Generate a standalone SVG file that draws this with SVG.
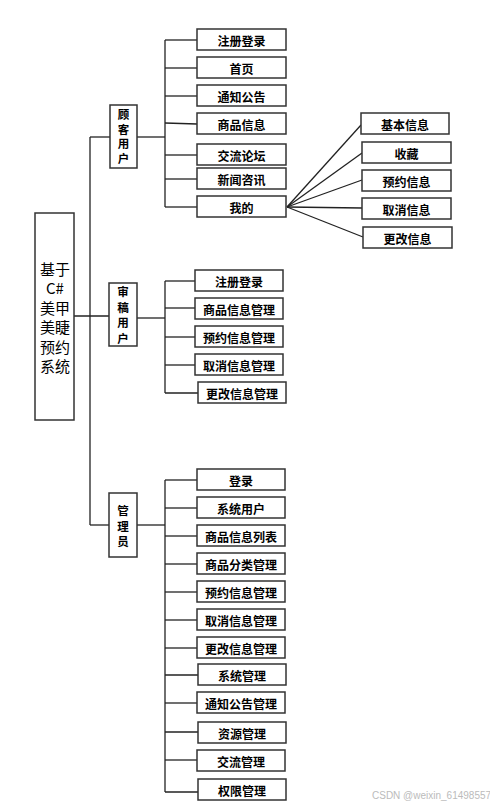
<svg xmlns="http://www.w3.org/2000/svg" width="490" height="807" viewBox="0 0 490 807">
<style>
.b{fill:#fff;stroke:#333;stroke-width:1.5}
.t{font-family:"Noto Sans CJK SC","Noto Sans",sans-serif;font-size:12px;font-weight:bold;fill:#000;text-anchor:middle;dominant-baseline:central}
.v{font-family:"Noto Sans CJK SC","Noto Sans",sans-serif;font-size:11.5px;font-weight:bold;fill:#000;text-anchor:middle;dominant-baseline:central}
.r{font-family:"Noto Sans CJK SC","Noto Sans",sans-serif;font-size:15px;fill:#000;text-anchor:middle;dominant-baseline:central}
.c line{stroke:#222;stroke-width:1.3}
.w{font-family:"Liberation Sans",Arial,sans-serif;font-size:10px;fill:#bbb}
</style>
<rect width="490" height="807" fill="#fff"/>
<g class="c" id="connectors">
<line x1="90" y1="137" x2="90" y2="525"/>
<line x1="74" y1="316" x2="109" y2="316"/>
<line x1="90" y1="137" x2="110" y2="137"/>
<line x1="90" y1="525" x2="109" y2="525"/>
<line x1="137" y1="137" x2="165" y2="137"/>
<line x1="165" y1="40" x2="165" y2="207"/>
<line x1="165" y1="40" x2="197" y2="40"/>
<line x1="165" y1="68" x2="197" y2="68"/>
<line x1="165" y1="96" x2="197" y2="96"/>
<line x1="165" y1="123" x2="197" y2="124"/>
<line x1="165" y1="155" x2="197" y2="155"/>
<line x1="165" y1="179" x2="197" y2="179"/>
<line x1="165" y1="207" x2="197" y2="207"/>
<line x1="287" y1="207" x2="361" y2="125"/>
<line x1="287" y1="207" x2="362" y2="153"/>
<line x1="287" y1="207" x2="362" y2="180"/>
<line x1="287" y1="207" x2="362" y2="208"/>
<line x1="287" y1="207" x2="363" y2="237"/>
<line x1="137" y1="318" x2="165" y2="318"/>
<line x1="165" y1="281" x2="165" y2="393"/>
<line x1="165" y1="281" x2="195" y2="281"/>
<line x1="165" y1="308" x2="195" y2="308"/>
<line x1="165" y1="337" x2="195" y2="337"/>
<line x1="165" y1="365" x2="195" y2="365"/>
<line x1="165" y1="393" x2="198" y2="393"/>
<line x1="137" y1="525" x2="165" y2="525"/>
<line x1="165" y1="480" x2="165" y2="792"/>
<line x1="165" y1="480" x2="197" y2="480"/>
<line x1="165" y1="508" x2="197" y2="508"/>
<line x1="165" y1="536" x2="197" y2="536"/>
<line x1="165" y1="564" x2="197" y2="564"/>
<line x1="165" y1="592" x2="197" y2="592"/>
<line x1="165" y1="620" x2="197" y2="620"/>
<line x1="165" y1="648" x2="197" y2="648"/>
<line x1="165" y1="675" x2="198" y2="675"/>
<line x1="165" y1="703" x2="197" y2="703"/>
<line x1="165" y1="732" x2="198" y2="732"/>
<line x1="165" y1="760" x2="197" y2="760"/>
<line x1="165" y1="792" x2="198" y2="792"/>
</g>
<g id="root"><rect class="b" x="35" y="213" width="39" height="207"/>
<text class="r" x="55" y="268">基于</text><text class="r" x="55" y="287.5">C#</text><text class="r" x="55" y="307">美甲</text><text class="r" x="55" y="326.5">美睫</text><text class="r" x="55" y="346">预约</text><text class="r" x="55" y="365.5">系统</text></g>
<g id="customer"><rect class="b" x="110" y="105" width="27" height="63"/>
<text class="v" x="123.5" y="113.5">顾</text><text class="v" x="123.5" y="128.5">客</text><text class="v" x="123.5" y="143">用</text><text class="v" x="123.5" y="158">户</text></g>
<g id="c1"><rect class="b" x="197" y="29" width="89" height="21"/><text class="t" x="241.5" y="40">注册登录</text></g>
<g id="c2"><rect class="b" x="197" y="57" width="89" height="21"/><text class="t" x="241.5" y="68">首页</text></g>
<g id="c3"><rect class="b" x="197" y="85" width="89" height="21"/><text class="t" x="241.5" y="96">通知公告</text></g>
<g id="c4"><rect class="b" x="197" y="113" width="89" height="21"/><text class="t" x="241.5" y="124">商品信息</text></g>
<g id="c5"><rect class="b" x="197" y="144" width="89" height="21"/><text class="t" x="241.5" y="155">交流论坛</text></g>
<g id="c6"><rect class="b" x="197" y="168" width="89" height="21"/><text class="t" x="241.5" y="179">新闻咨讯</text></g>
<g id="c7"><rect class="b" x="197" y="196" width="89" height="21"/><text class="t" x="241.5" y="207">我的</text></g>
<g id="m1"><rect class="b" x="361" y="113" width="88" height="21"/><text class="t" x="405" y="124">基本信息</text></g>
<g id="m2"><rect class="b" x="362" y="142" width="89" height="21"/><text class="t" x="406.5" y="153">收藏</text></g>
<g id="m3"><rect class="b" x="362" y="170" width="89" height="21"/><text class="t" x="406.5" y="181">预约信息</text></g>
<g id="m4"><rect class="b" x="362" y="198" width="89" height="21"/><text class="t" x="406.5" y="209">取消信息</text></g>
<g id="m5"><rect class="b" x="363" y="227" width="89" height="21"/><text class="t" x="407.5" y="238">更改信息</text></g>
<g id="auditor"><rect class="b" x="109" y="283" width="28" height="63"/>
<text class="v" x="123" y="291">审</text><text class="v" x="123" y="306.5">稿</text><text class="v" x="123" y="322">用</text><text class="v" x="123" y="337.5">户</text></g>
<g id="a1"><rect class="b" x="195" y="270" width="88" height="21"/><text class="t" x="239" y="281">注册登录</text></g>
<g id="a2"><rect class="b" x="195" y="298" width="88" height="21"/><text class="t" x="239" y="309">商品信息管理</text></g>
<g id="a3"><rect class="b" x="195" y="326" width="88" height="21"/><text class="t" x="239" y="337">预约信息管理</text></g>
<g id="a4"><rect class="b" x="195" y="354" width="88" height="21"/><text class="t" x="239" y="365">取消信息管理</text></g>
<g id="a5"><rect class="b" x="198" y="382" width="88" height="21"/><text class="t" x="242" y="393">更改信息管理</text></g>
<g id="admin"><rect class="b" x="109" y="493" width="28" height="64"/>
<text class="v" x="123" y="510">管</text><text class="v" x="123" y="526">理</text><text class="v" x="123" y="541">员</text></g>
<g id="d1"><rect class="b" x="197" y="469" width="88" height="21"/><text class="t" x="241" y="480">登录</text></g>
<g id="d2"><rect class="b" x="197" y="497" width="88" height="21"/><text class="t" x="241" y="508">系统用户</text></g>
<g id="d3"><rect class="b" x="197" y="525" width="88" height="21"/><text class="t" x="241" y="536">商品信息列表</text></g>
<g id="d4"><rect class="b" x="197" y="553" width="88" height="21"/><text class="t" x="241" y="564">商品分类管理</text></g>
<g id="d5"><rect class="b" x="197" y="581" width="88" height="21"/><text class="t" x="241" y="592">预约信息管理</text></g>
<g id="d6"><rect class="b" x="197" y="609" width="88" height="21"/><text class="t" x="241" y="620">取消信息管理</text></g>
<g id="d7"><rect class="b" x="197" y="637" width="88" height="21"/><text class="t" x="241" y="648">更改信息管理</text></g>
<g id="d8"><rect class="b" x="198" y="664" width="88" height="21"/><text class="t" x="242" y="675">系统管理</text></g>
<g id="d9"><rect class="b" x="197" y="692" width="88" height="21"/><text class="t" x="241" y="703">通知公告管理</text></g>
<g id="d10"><rect class="b" x="198" y="722" width="88" height="21"/><text class="t" x="242" y="733">资源管理</text></g>
<g id="d11"><rect class="b" x="197" y="750" width="88" height="21"/><text class="t" x="241" y="761">交流管理</text></g>
<g id="d12"><rect class="b" x="198" y="779" width="88" height="21"/><text class="t" x="242" y="790">权限管理</text></g>
<text class="w" x="372" y="799">CSDN @weixin_61498557</text>
</svg>
